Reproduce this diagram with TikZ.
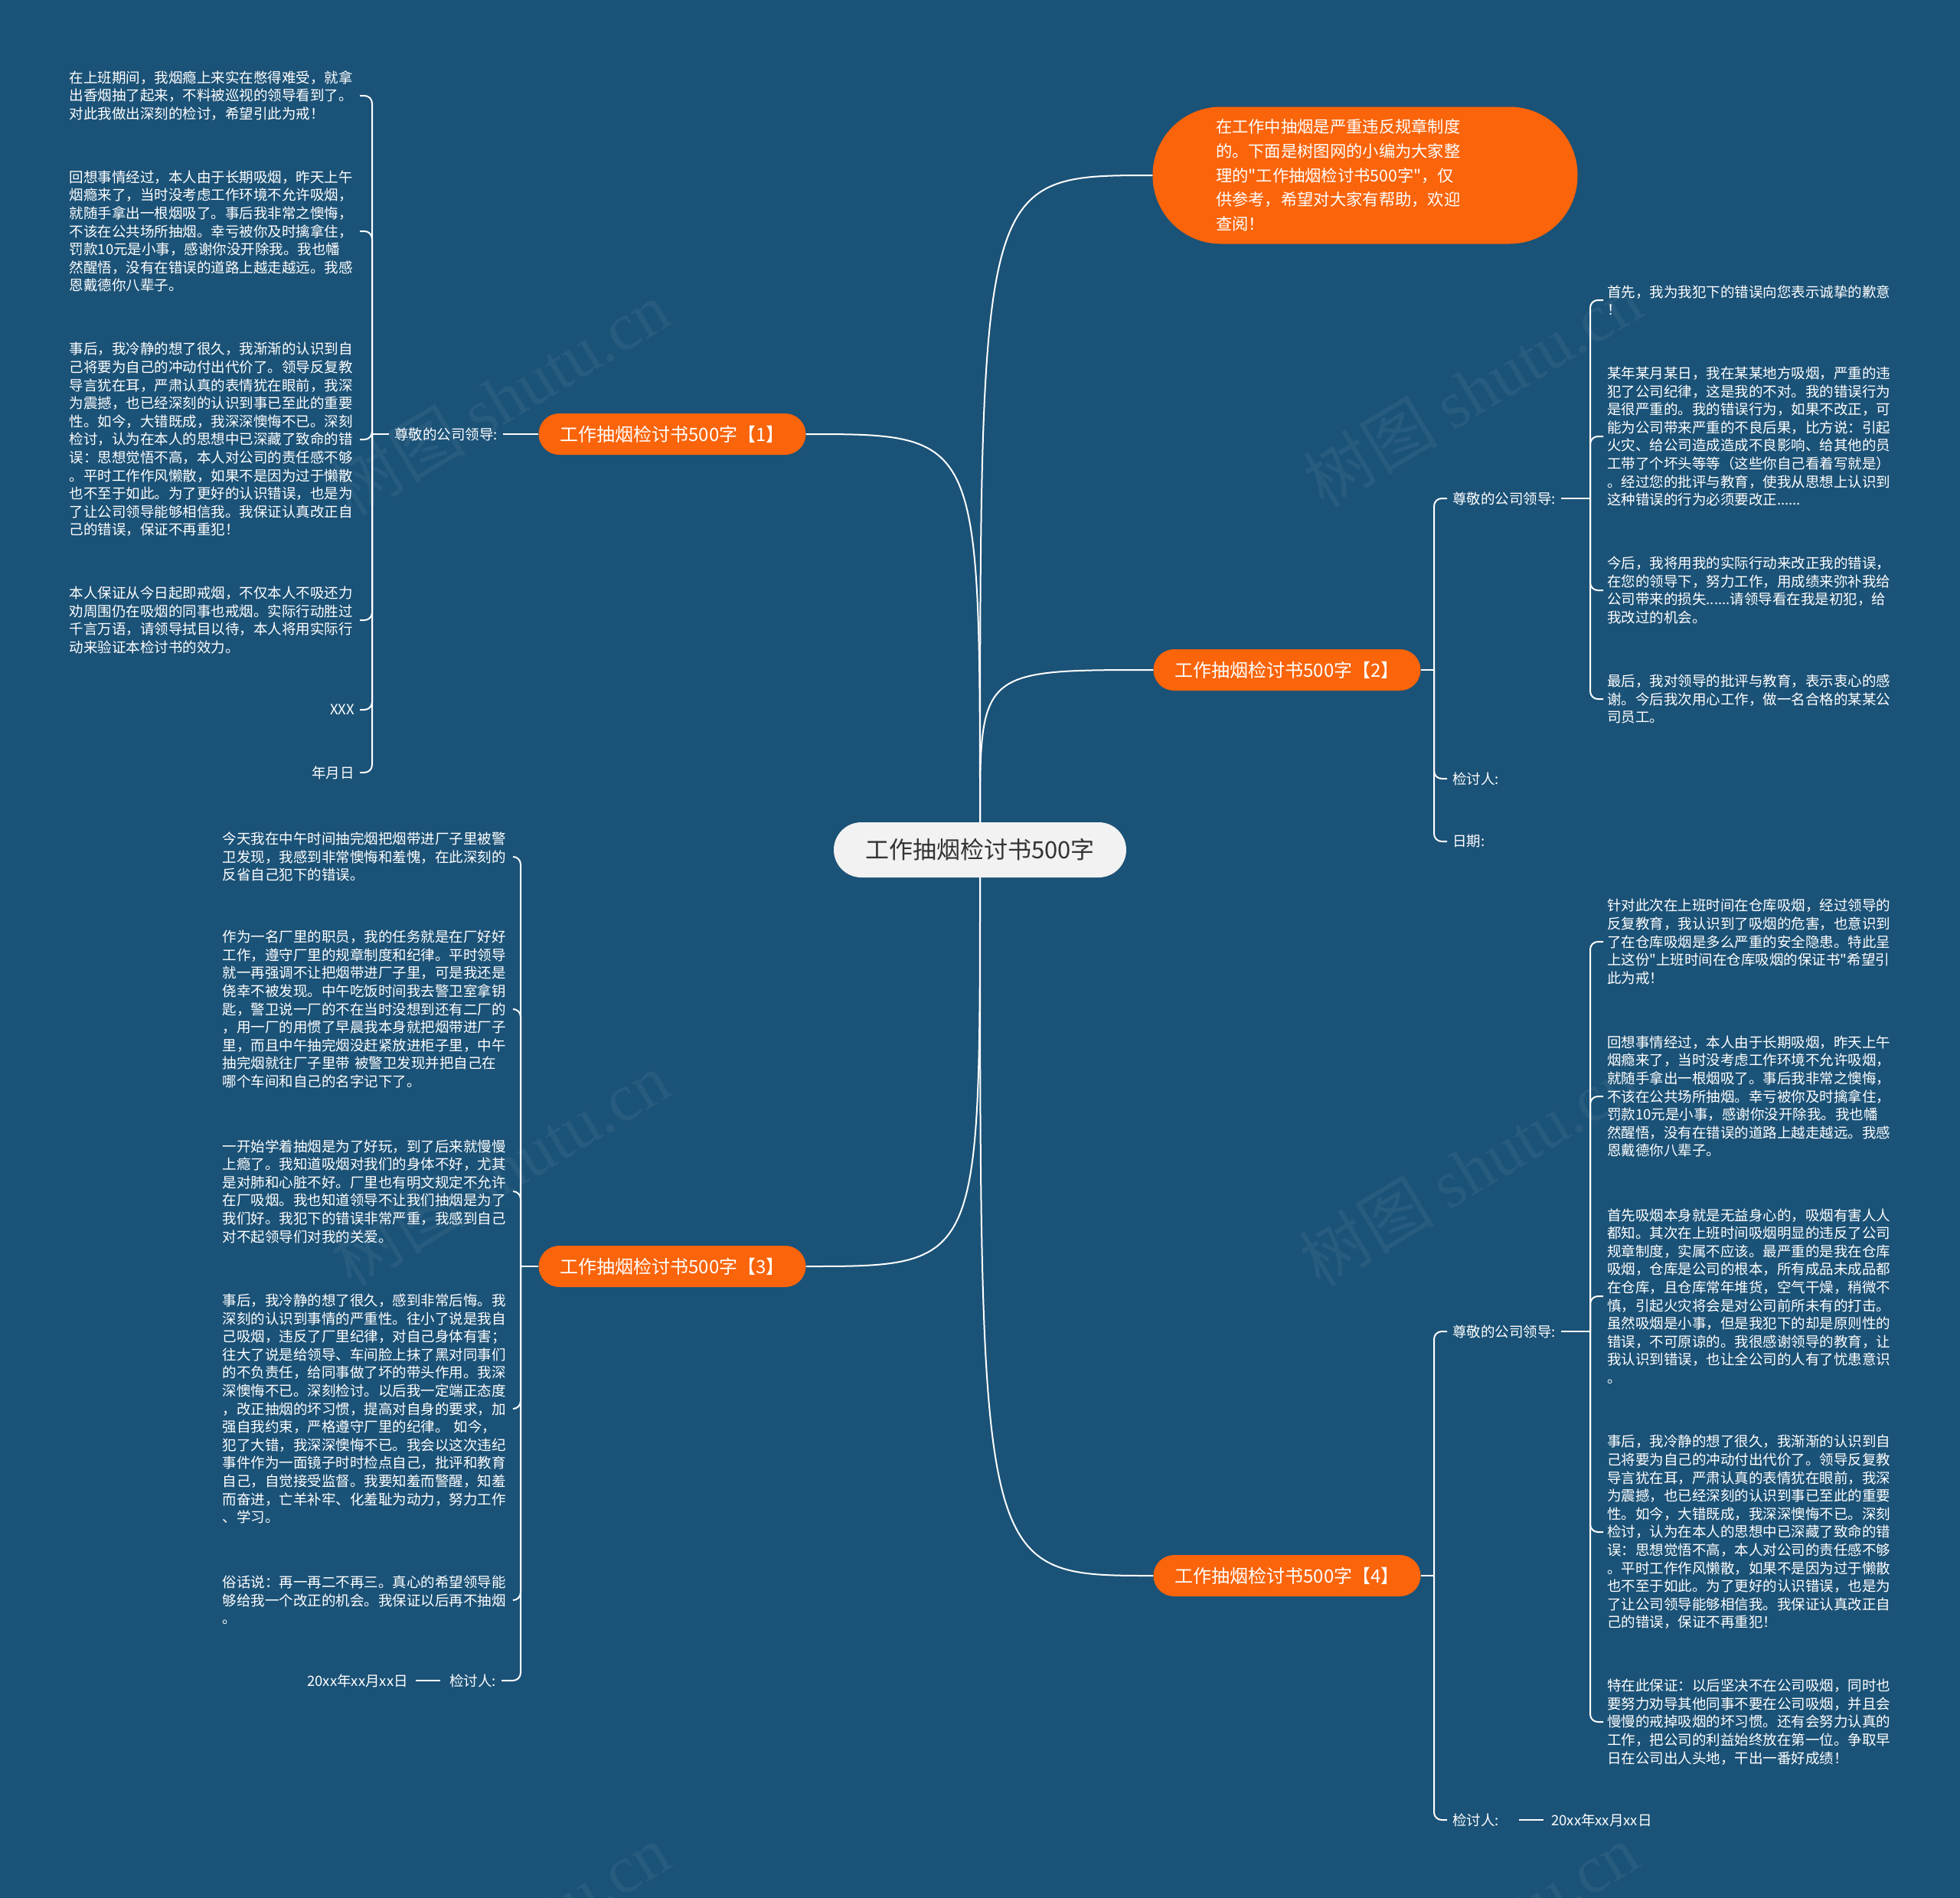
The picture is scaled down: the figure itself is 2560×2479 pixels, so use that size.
\documentclass[tikz,border=0pt]{standalone}
\usepackage{fontspec}
\setmainfont{Noto Sans CJK SC}
\newfontfamily\zhfont{Noto Sans CJK SC}
\newfontfamily\wmserif{Liberation Serif}
\usepackage{xcolor}
\usepackage{tikz}
\usetikzlibrary{positioning}
\definecolor{bgblue}{RGB}{27,82,119}
\definecolor{branchorange}{RGB}{250,100,10}
\definecolor{rootgray}{RGB}{242,242,242}
\definecolor{roottext}{RGB}{51,51,51}
\newcommand{\leaffont}{\zhfont\fontsize{18.5}{23.6}\selectfont}
\tikzstyle{link} = [draw=white, line width=2pt]
\tikzstyle{hook} = [link, rounded corners=10pt]
\tikzstyle{leaf} = [text=white, align=left, text width=374pt, inner xsep=5pt, inner ysep=2pt, font=\leaffont]
\tikzstyle{tag} = [text=white, inner xsep=7pt, inner ysep=2pt, font=\leaffont]

% 重复出现的两段
\newcommand{\txtHuixiang}{回想事情经过，本人由于长期吸烟，昨天上午\\烟瘾来了，当时没考虑工作环境不允许吸烟，\\就随手拿出一根烟吸了。事后我非常之懊悔，\\不该在公共场所抽烟。幸亏被你及时擒拿住，\\罚款10元是小事，感谢你没开除我。我也幡\\然醒悟，没有在错误的道路上越走越远。我感\\恩戴德你八辈子。}
\newcommand{\txtShihou}{事后，我冷静的想了很久，我渐渐的认识到自\\己将要为自己的冲动付出代价了。领导反复教\\导言犹在耳，严肃认真的表情犹在眼前，我深\\为震撼，也已经深刻的认识到事已至此的重要\\性。如今，大错既成，我深深懊悔不已。深刻\\检讨，认为在本人的思想中已深藏了致命的错\\误：思想觉悟不高，本人对公司的责任感不够\\。平时工作作风懒散，如果不是因为过于懒散\\也不至于如此。为了更好的认识错误，也是为\\了让公司领导能够相信我。我保证认真改正自\\己的错误，保证不再重犯！}

\begin{document}
\begin{tikzpicture}[x=1pt, y=-1pt]
        % 样式定义
        \tikzstyle{root} = [fill=rootgray, text=roottext, rounded corners=36pt, minimum width=382pt, minimum height=72pt, font=\zhfont\fontsize{31}{36}\selectfont]
        \tikzstyle{intro} = [fill=branchorange, text=white, rounded corners=89pt, minimum width=555pt, minimum height=179pt, text width=390pt, align=left, font=\zhfont\fontsize{21.3}{31.7}\selectfont]
        \tikzstyle{branch} = [fill=branchorange, text=white, rounded corners=27pt, minimum width=349pt, minimum height=54pt, font=\zhfont\fontsize{24}{28}\selectfont]
        \tikzstyle{wmark} = [text=white, opacity=0.06, rotate=31, font=\zhfont\fontsize{88}{88}\selectfont]

        \useasboundingbox (0,0) rectangle (2560,2479);
        \clip (0,0) rectangle (2560,2479);
        \fill [bgblue] (0,0) rectangle (2560,2479);

        % 水印
        \node [wmark] (wm1) at (653,520) {树图 {\wmserif shutu.cn}};
        \node [wmark] (wm2) at (1923,509) {树图 {\wmserif shutu.cn}};
        \node [wmark] (wm3) at (653,1527) {树图 {\wmserif shutu.cn}};
        \node [wmark] (wm4) at (1918,1527) {树图 {\wmserif shutu.cn}};
        \node [wmark] (wm5) at (653,2535) {树图 {\wmserif shutu.cn}};
        \node [wmark] (wm6) at (1918,2535) {树图 {\wmserif shutu.cn}};

        % 放置节点
        \node [root] (ctr) at (1280,1110) {工作抽烟检讨书500字};
        \node [intro] (intro) at (1783,229) {在工作中抽烟是严重违反规章制度\\的。下面是树图网的小编为大家整\\理的"工作抽烟检讨书500字"，仅\\供参考，希望对大家有帮助，欢迎\\查阅！};
        \node [branch] (br1) at (878,567) {工作抽烟检讨书500字【1】};
        \node [branch] (br2) at (1681,875) {工作抽烟检讨书500字【2】};
        \node [branch] (br3) at (878,1654) {工作抽烟检讨书500字【3】};
        \node [branch] (br4) at (1681,2058) {工作抽烟检讨书500字【4】};

        % 【1】
        \node [tag, anchor=east] (lead1) at (657,567) {尊敬的公司领导:};
        \coordinate (j1) at (486,567);
        \node [leaf, anchor=east] (p1a) at (470,125) {在上班期间，我烟瘾上来实在憋得难受，就拿\\出香烟抽了起来，不料被巡视的领导看到了。\\对此我做出深刻的检讨，希望引此为戒！};
        \node [leaf, anchor=east] (p1b) at (470,302) {\txtHuixiang};
        \node [leaf, anchor=east] (p1c) at (470,574) {\txtShihou};
        \node [leaf, anchor=east] (p1d) at (470,810) {本人保证从今日起即戒烟，不仅本人不吸还力\\劝周围仍在吸烟的同事也戒烟。实际行动胜过\\千言万语，请领导拭目以待，本人将用实际行\\动来验证本检讨书的效力。};
        \node [tag, anchor=east] (p1e) at (470,927) {XXX};
        \node [tag, anchor=east] (p1f) at (470,1009) {年月日};

        % 【2】
        \coordinate (j2) at (1873,875);
        \node [tag, anchor=west] (lead2) at (1890,651) {尊敬的公司领导:};
        \node [tag, anchor=west] (jt2) at (1890,1017) {检讨人:};
        \node [tag, anchor=west] (rq2) at (1890,1099) {日期:};
        \coordinate (k2) at (2077,651);
        \node [leaf, anchor=west] (p2a) at (2094,392) {首先，我为我犯下的错误向您表示诚挚的歉意\\！};
        \node [leaf, anchor=west] (p2b) at (2094,570) {某年某月某日，我在某某地方吸烟，严重的违\\犯了公司纪律，这是我的不对。我的错误行为\\是很严重的。我的错误行为，如果不改正，可\\能为公司带来严重的不良后果，比方说：引起\\火灾、给公司造成造成不良影响、给其他的员\\工带了个坏头等等（这些你自己看着写就是）\\。经过您的批评与教育，使我从思想上认识到\\这种错误的行为必须要改正......};
        \node [leaf, anchor=west] (p2c) at (2094,771) {今后，我将用我的实际行动来改正我的错误，\\在您的领导下，努力工作，用成绩来弥补我给\\公司带来的损失......请领导看在我是初犯，给\\我改过的机会。};
        \node [leaf, anchor=west] (p2d) at (2094,913) {最后，我对领导的批评与教育，表示衷心的感\\谢。今后我次用心工作，做一名合格的某某公\\司员工。};

        % 【3】
        \coordinate (j3) at (680,1654);
        \node [leaf, anchor=east] (p3a) at (670,1119) {今天我在中午时间抽完烟把烟带进厂子里被警\\卫发现，我感到非常懊悔和羞愧，在此深刻的\\反省自己犯下的错误。};
        \node [leaf, anchor=east] (p3b) at (670,1318) {作为一名厂里的职员，我的任务就是在厂好好\\工作，遵守厂里的规章制度和纪律。平时领导\\就一再强调不让把烟带进厂子里，可是我还是\\侥幸不被发现。中午吃饭时间我去警卫室拿钥\\匙，警卫说一厂的不在当时没想到还有二厂的\\，用一厂的用惯了早晨我本身就把烟带进厂子\\里，而且中午抽完烟没赶紧放进柜子里，中午\\抽完烟就往厂子里带 被警卫发现并把自己在\\哪个车间和自己的名字记下了。};
        \node [leaf, anchor=east] (p3c) at (670,1556) {一开始学着抽烟是为了好玩，到了后来就慢慢\\上瘾了。我知道吸烟对我们的身体不好，尤其\\是对肺和心脏不好。厂里也有明文规定不允许\\在厂吸烟。我也知道领导不让我们抽烟是为了\\我们好。我犯下的错误非常严重，我感到自己\\对不起领导们对我的关爱。};
        \node [leaf, anchor=east] (p3d) at (670,1840) {事后，我冷静的想了很久，感到非常后悔。我\\深刻的认识到事情的严重性。往小了说是我自\\己吸烟，违反了厂里纪律，对自己身体有害；\\往大了说是给领导、车间脸上抹了黑对同事们\\的不负责任，给同事做了坏的带头作用。我深\\深懊悔不已。深刻检讨。以后我一定端正态度\\，改正抽烟的坏习惯，提高对自身的要求，加\\强自我约束，严格遵守厂里的纪律。 如今，\\犯了大错，我深深懊悔不已。我会以这次违纪\\事件作为一面镜子时时检点自己，批评和教育\\自己，自觉接受监督。我要知羞而警醒，知羞\\而奋进，亡羊补牢、化羞耻为动力，努力工作\\、学习。};
        \node [leaf, anchor=east] (p3e) at (670,2090) {俗话说：再一再二不再三。真心的希望领导能\\够给我一个改正的机会。我保证以后再不抽烟\\。};
        \node [tag, anchor=east] (jt3) at (655,2195) {检讨人:};
        \node [tag, left=40pt of jt3] (dt3) {20xx年xx月xx日};

        % 【4】
        \coordinate (j4) at (1873,2058);
        \node [tag, anchor=west] (lead4) at (1890,1739) {尊敬的公司领导:};
        \node [tag, anchor=west] (jt4) at (1890,2377) {检讨人:};
        \node [tag, right=54pt of jt4] (dt4) {20xx年xx月xx日};
        \coordinate (k4) at (2077,1739);
        \node [leaf, anchor=west] (p4a) at (2094,1230) {针对此次在上班时间在仓库吸烟，经过领导的\\反复教育，我认识到了吸烟的危害，也意识到\\了在仓库吸烟是多么严重的安全隐患。特此呈\\上这份"上班时间在仓库吸烟的保证书"希望引\\此为戒！};
        \node [leaf, anchor=west] (p4b) at (2094,1432) {\txtHuixiang};
        \node [leaf, anchor=west] (p4c) at (2094,1693) {首先吸烟本身就是无益身心的，吸烟有害人人\\都知。其次在上班时间吸烟明显的违反了公司\\规章制度，实属不应该。最严重的是我在仓库\\吸烟，仓库是公司的根本，所有成品未成品都\\在仓库，且仓库常年堆货，空气干燥，稍微不\\慎，引起火灾将会是对公司前所未有的打击。\\虽然吸烟是小事，但是我犯下的却是原则性的\\错误，不可原谅的。我很感谢领导的教育，让\\我认识到错误，也让全公司的人有了忧患意识\\。};
        \node [leaf, anchor=west] (p4d) at (2094,2001) {\txtShihou};
        \node [leaf, anchor=west] (p4e) at (2094,2249) {特在此保证：以后坚决不在公司吸烟，同时也\\要努力劝导其他同事不要在公司吸烟，并且会\\慢慢的戒掉吸烟的坏习惯。还有会努力认真的\\工作，把公司的利益始终放在第一位。争取早\\日在公司出人头地，干出一番好成绩！};

        % 主干连线
        \draw [link] (ctr.north) .. controls (ctr.north |- intro.west) .. (intro.west);
        \draw [link] (ctr.north) .. controls (ctr.north |- br1.east) .. (br1.east);
        \draw [link] (ctr.north) .. controls (ctr.north |- br2.west) .. (br2.west);
        \draw [link] (ctr.south) .. controls (ctr.south |- br3.east) .. (br3.east);
        \draw [link] (ctr.south) .. controls (ctr.south |- br4.west) .. (br4.west);

        % 【1】的分支
        \draw [link] (br1) -- (lead1);
        \draw [link] (lead1) -- (j1);
        \draw [hook] (j1) |- (p1a.east);
        \draw [hook] (j1) |- (p1b.east);
        \draw [hook] (j1) |- (p1c.east);
        \draw [hook] (j1) |- (p1d.east);
        \draw [hook] (j1) |- (p1e.east);
        \draw [hook] (j1) |- (p1f.east);

        % 【2】的分支
        \draw [link] (br2.east) -- (j2);
        \draw [hook] (j2) |- (lead2.west);
        \draw [hook] (j2) |- (jt2.west);
        \draw [hook] (j2) |- (rq2.west);
        \draw [link] (lead2) -- (k2);
        \draw [hook] (k2) |- (p2a.west);
        \draw [hook] (k2) |- (p2b.west);
        \draw [hook] (k2) |- (p2c.west);
        \draw [hook] (k2) |- (p2d.west);

        % 【3】的分支
        \draw [link] (br3.west) -- (j3);
        \draw [hook] (j3) |- (p3a.east);
        \draw [hook] (j3) |- (p3b.east);
        \draw [hook] (j3) |- (p3c.east);
        \draw [hook] (j3) |- (p3d.east);
        \draw [hook] (j3) |- (p3e.east);
        \draw [hook] (j3) |- (jt3.east);
        \draw [link, shorten <=5pt, shorten >=3pt] (jt3.west) -- (dt3.east);

        % 【4】的分支
        \draw [link] (br4.east) -- (j4);
        \draw [hook] (j4) |- (lead4.west);
        \draw [hook] (j4) |- (jt4.west);
        \draw [link, shorten <=19pt, shorten >=3pt] (jt4.east) -- (dt4.west);
        \draw [link] (lead4) -- (k4);
        \draw [hook] (k4) |- (p4a.west);
        \draw [hook] (k4) |- (p4b.west);
        \draw [hook] (k4) |- (p4c.west);
        \draw [hook] (k4) |- (p4d.west);
        \draw [hook] (k4) |- (p4e.west);
    \end{tikzpicture}
\end{document}
